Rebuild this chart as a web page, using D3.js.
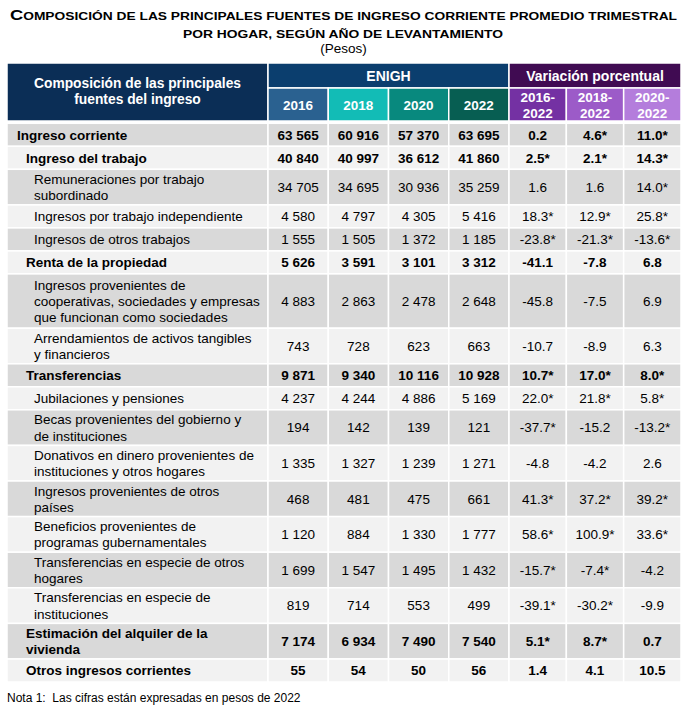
<!DOCTYPE html>
<html><head><meta charset="utf-8">
<script src="https://cdn.jsdelivr.net/npm/d3@7"></script>
<style>
body{margin:0;background:#fff}
svg{display:block}
text{font-family:"Liberation Sans",Arial,Helvetica,sans-serif;fill:#000}
</style>
</head><body>
<svg id="chart" width="687" height="710"></svg>
<script>
// ---------------- DATA ----------------
const labels = [
  "Ingreso corriente",
  "Ingreso del trabajo",
  "Remuneraciones por trabajo\nsubordinado",
  "Ingresos por trabajo independiente",
  "Ingresos de otros trabajos",
  "Renta de la propiedad",
  "Ingresos provenientes de\ncooperativas, sociedades y empresas\nque funcionan como sociedades",
  "Arrendamientos de activos tangibles\ny financieros",
  "Transferencias",
  "Jubilaciones y pensiones",
  "Becas provenientes del gobierno y\nde instituciones",
  "Donativos en dinero provenientes de\ninstituciones y otros hogares",
  "Ingresos provenientes de otros\npaíses",
  "Beneficios provenientes de\nprogramas gubernamentales",
  "Transferencias en especie de otros\nhogares",
  "Transferencias en especie de\ninstituciones",
  "Estimación del alquiler de la\nvivienda",
  "Otros ingresos corrientes"
];
const levels = [0,1,2,2,2,1,2,2,1,2,2,2,2,2,2,2,1,1];

const years = ["2016","2018","2020","2022"];
const periods = ["2016-\n2022","2018-\n2022","2020-\n2022"];

const v2016 = [63565,40840,34705,4580,1555,5626,4883,743,9871,4237,194,1335,468,1120,1699,819,7174,55];
const v2018 = [60916,40997,34695,4797,1505,3591,2863,728,9340,4244,142,1327,481,884,1547,714,6934,54];
const v2020 = [57370,36612,30936,4305,1372,3101,2478,623,10116,4886,139,1239,475,1330,1495,553,7490,50];
const v2022 = [63695,41860,35259,5416,1185,3312,2648,663,10928,5169,121,1271,661,1777,1432,499,7540,56];

const var1622 = [0.2,2.5,1.6,18.3,-23.8,-41.1,-45.8,-10.7,10.7,22.0,-37.7,-4.8,41.3,58.6,-15.7,-39.1,5.1,1.4];
const var1822 = [4.6,2.1,1.6,12.9,-21.3,-7.8,-7.5,-8.9,17.0,21.8,-15.2,-4.2,37.2,100.9,-7.4,-30.2,8.7,4.1];
const var2022 = [11.0,14.3,14.0,25.8,-13.6,6.8,6.9,6.3,8.0,5.8,-13.2,2.6,39.2,33.6,-4.2,-9.9,0.7,10.5];

const sig1622 = [0,1,0,1,1,0,0,0,1,1,1,0,1,1,1,1,1,0];
const sig1822 = [1,1,0,1,1,0,0,0,1,1,0,0,1,1,1,1,1,0];
const sig2022 = [1,1,1,1,1,0,0,0,1,1,1,0,1,1,0,0,0,0];

const titleLine1 = "COMPOSICIÓN DE LAS PRINCIPALES FUENTES DE INGRESO CORRIENTE PROMEDIO TRIMESTRAL";
const titleLine2 = "POR HOGAR, SEGÚN AÑO DE LEVANTAMIENTO";
const subtitle = "(Pesos)";
const headLabel = "Composición de las principales\nfuentes del ingreso";
const groupEnigh = "ENIGH";
const groupVar = "Variación porcentual";
const note = "Nota 1:  Las cifras están expresadas en pesos de 2022";

// ---------------- LAYOUT ----------------
const svg = d3.select("#chart");
const FONT = 13.5;
const left = 7, labelRight = 268, enighRight = 509, right = 681;
const headTop = 63, headMid = 88, headBottom = 121, bodyTop = 123.3;
const C = {
  navy:"#0b2e56", enigh:"#0b3e6e",
  years:["#2a6190","#12bcb6","#08897e","#075e52"],
  varHead:"#400b52",
  periods:["#7431a3","#9c5bc8","#b47ddc"],
  dark:"#d9d9d9", light:"#f2f2f2"
};

const xYear = d3.scaleBand().domain(years).range([labelRight, enighRight]);
const xVar = d3.scaleBand().domain(periods).range([enighRight, right]);

const locale = d3.formatLocale({decimal:".", thousands:" ", grouping:[3], currency:["$",""], minus:"-"});
const fInt = locale.format(",d");
const fPct = locale.format(".1f");

// title
const t1 = svg.append("text").attr("x", 10).attr("y", 20)
  .attr("font-weight","bold").attr("font-size",11.7)
  .attr("textLength", 667).attr("lengthAdjust","spacingAndGlyphs");
t1.append("tspan").attr("font-size",15.5).text(titleLine1[0]);
t1.append("tspan").text(titleLine1.slice(1));
svg.append("text").attr("x", 183).attr("y", 38)
  .attr("font-weight","bold").attr("font-size",11.7)
  .attr("textLength", 320).attr("lengthAdjust","spacingAndGlyphs").text(titleLine2);
svg.append("text").attr("x", 343.5).attr("y", 53).attr("text-anchor","middle")
  .attr("font-size",13.5).text(subtitle);

// multi-line text helper
function multiText(g, str, x, yc, opts) {
  const lines = str.split("\n");
  const lh = opts.lh || 16;
  const t = g.append("text").attr("x", x).attr("text-anchor", opts.anchor || "middle")
    .attr("font-size", opts.size || FONT).attr("font-weight", opts.bold ? "bold" : "normal")
    .style("fill", opts.fill || "#000");
  lines.forEach((ln, i) => {
    t.append("tspan").attr("x", x)
      .attr("y", yc + (i - (lines.length - 1) / 2) * lh)
      .attr("dy", "0.36em").text(ln);
  });
  return t;
}

function cell(g, x, y, w, h, fill) {
  g.append("rect").attr("x", x).attr("y", y).attr("width", w).attr("height", h)
    .attr("fill", fill).attr("stroke", "#fff").attr("stroke-width", 1.5);
}

// header
const H = svg.append("g");
cell(H, left, headTop, labelRight - left, headBottom - headTop, C.navy);
multiText(H, headLabel, (left + labelRight) / 2, 91, {bold:true, fill:"#fff", lh:15.5, size:13.8});
cell(H, labelRight, headTop, enighRight - labelRight, headMid - headTop, C.enigh);
multiText(H, groupEnigh, (labelRight + enighRight) / 2, 75.5, {bold:true, fill:"#fff", size:14});
cell(H, enighRight, headTop, right - enighRight, headMid - headTop, C.varHead);
multiText(H, groupVar, (enighRight + right) / 2, 75.5, {bold:true, fill:"#fff", size:14});
years.forEach((y, i) => {
  cell(H, xYear(y), headMid, xYear.bandwidth(), headBottom - headMid, C.years[i]);
  multiText(H, y, xYear(y) + xYear.bandwidth() / 2, 105.5, {bold:true, fill:"#fff", size:13.5});
});
periods.forEach((p, i) => {
  cell(H, xVar(p), headMid, xVar.bandwidth(), headBottom - headMid, C.periods[i]);
  multiText(H, p, xVar(p) + xVar.bandwidth() / 2, 105, {bold:true, fill:"#fff", size:13.5, lh:16.5});
});

// body rows
const lineCount = labels.map(l => l.split("\n").length);
const rowH = lineCount.map(n => n === 1 ? 23 : n === 2 ? 35.6 : 54.3);
const rowY = [];
rowH.reduce((acc, h, i) => { rowY[i] = acc; return acc + h; }, bodyTop);
const indent = [17, 26, 34];

const yearVals = [v2016, v2018, v2020, v2022];
const varVals = [var1622, var1822, var2022];
const sigVals = [sig1622, sig1822, sig2022];

const rows = svg.append("g").selectAll("g").data(labels).join("g")
  .attr("transform", (d, i) => `translate(0,${rowY[i]})`);

rows.each(function(lab, i) {
  const g = d3.select(this);
  const h = rowH[i];
  const fill = i % 2 === 0 ? C.dark : C.light;
  const bold = levels[i] < 2;
  cell(g, left, 0, labelRight - left, h, fill);
  multiText(g, lab, indent[levels[i]], h / 2, {anchor:"start", bold, lh:16.2});
  years.forEach((y, j) => {
    cell(g, xYear(y), 0, xYear.bandwidth(), h, fill);
    multiText(g, fInt(yearVals[j][i]), xYear(y) + xYear.bandwidth() / 2, h / 2, {bold});
  });
  periods.forEach((p, j) => {
    cell(g, xVar(p), 0, xVar.bandwidth(), h, fill);
    const txt = fPct(varVals[j][i]) + (sigVals[j][i] ? "*" : "");
    multiText(g, txt, xVar(p) + xVar.bandwidth() / 2, h / 2, {bold});
  });
});

// footnote
svg.append("text").attr("x", 7).attr("y", 702).attr("font-size", 12)
  .style("white-space", "pre").text(note);
</script>
</body></html>
